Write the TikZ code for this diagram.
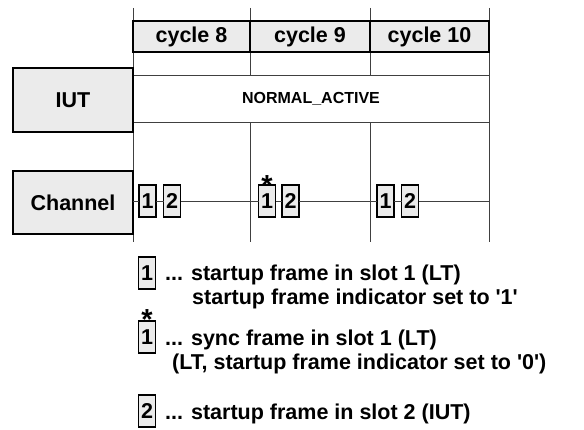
\documentclass[tikz,border=0pt]{standalone}
\usepackage{fontspec}
\setmainfont{Liberation Sans}[Ligatures=TeXOff]
\definecolor{boxgray}{HTML}{EBEBEB}
\definecolor{gridline}{HTML}{404040}
\begin{document}
\begin{tikzpicture}[x=1pt,y=-1pt,
  bigfont/.style={font=\bfseries\fontsize{21.5}{24}\selectfont},
  labelbox/.style={draw, line width=1.6pt, fill=boxgray, minimum width=120pt,
    minimum height=64pt, inner sep=0pt, outer sep=0pt, bigfont},
  cyclebox/.style={draw, line width=1.8pt, fill=boxgray, minimum height=31pt,
    inner sep=0pt, outer sep=0pt, bigfont},
  framebox/.style={draw, line width=1.2pt, fill=boxgray, minimum width=17pt,
    minimum height=32pt, inner sep=0pt, outer sep=0pt, bigfont},
  gridrule/.style={draw=gridline, line width=0.9pt},
  legendtext/.style={anchor=base west, inner sep=0pt, bigfont},
  starmark/.style={anchor=base, inner sep=0pt,
    font=\bfseries\fontsize{29}{30}\selectfont}]
\useasboundingbox (0,0) rectangle (584,430);

% cycle boundaries
\coordinate (t8) at (133,8);   \coordinate (b8) at (133,242);
\coordinate (t9) at (250,8);   \coordinate (b9) at (250,242);
\coordinate (t10) at (370,8);  \coordinate (b10) at (370,242);
\coordinate (tend) at (489,8); \coordinate (bend) at (489,242);
\foreach \c in {8,9,10,end} \draw[gridrule] (t\c) -- (b\c);

% cycle headers
\node[cyclebox, minimum width=117pt] (cyc8) at (191.5,36.5) {cycle 8};
\node[cyclebox, minimum width=120pt] (cyc9) at (310,36.5) {cycle 9};
\node[cyclebox, minimum width=119pt] (cyc10) at (429.5,36.5) {cycle 10};

% IUT state band
\node[draw=gridline, line width=0.9pt, fill=white, minimum width=356pt,
  minimum height=47pt, inner sep=0pt, outer sep=0pt,
  font=\bfseries\fontsize{16}{18}\selectfont] (state) at (311,98.5) {NORMAL\_ACTIVE};

% row labels
\node[labelbox] (iut) at (73,100) {IUT};
\node[labelbox, minimum height=63pt] (channel) at (73,202.5) {Channel};

% frames on the channel
\node[framebox] (f81) at (147.5,201) {1};
\node[framebox] (f82) at (172,201) {2};
\node[framebox] (f91) at (267,201) {1};
\node[framebox] (f92) at (290.5,201) {2};
\node[framebox] (f101) at (385.5,201) {1};
\node[framebox] (f102) at (410,201) {2};
\node[starmark] (star9) at (267,196) {*};
\coordinate (chend) at (489,201);
\draw[gridrule] (channel.east |- f81.west) -- (f81.west)
  (f81.east) -- (f82.west) (f82.east) -- (f91.west)
  (f91.east) -- (f92.west) (f92.east) -- (f101.west)
  (f101.east) -- (f102.west) (f102.east) -- (chend);

% legend
\node[framebox] (lg1) at (147,273) {1};
\node[legendtext] (lt1) at (165,281) {... startup frame in slot 1 (LT)};
\node[legendtext] (lt2) at (192,305) {startup frame indicator set to '1'};
\node[framebox] (lg2) at (147,337) {1};
\node[starmark] (lstar) at (147,330) {*};
\node[legendtext] (lt3) at (165,346) {... sync frame in slot 1 (LT)};
\node[legendtext] (lt4) at (172,370) {(LT, startup frame indicator set to '0')};
\node[framebox] (lg3) at (147,411) {2};
\node[legendtext] (lt5) at (165,419) {... startup frame in slot 2 (IUT)};
\end{tikzpicture}
\end{document}
